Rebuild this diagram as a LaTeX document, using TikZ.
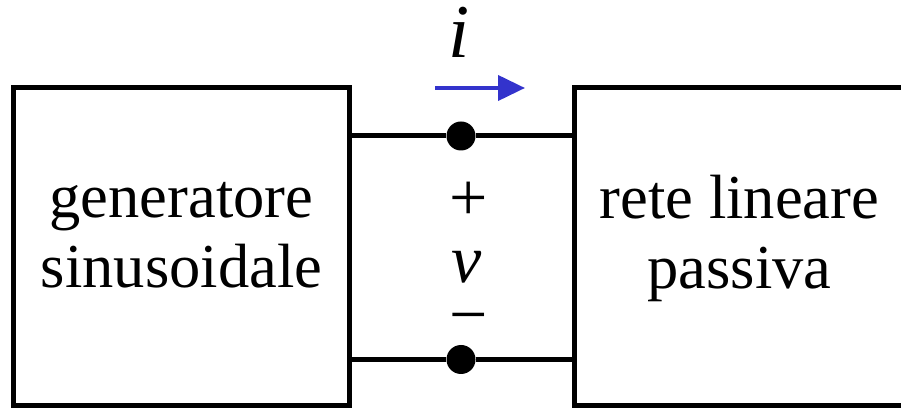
\documentclass[tikz,border=0pt]{standalone}
\usepackage{fontspec}
\setmainfont{Liberation Serif}
\usetikzlibrary{arrows.meta, calc, positioning}
\definecolor{curblue}{RGB}{51,51,204}

\begin{document}
\begin{tikzpicture}[x=1pt,y=1pt,
    block/.style={draw,line width=5pt,minimum height=318pt,inner sep=0pt},
    blocktext/.style={align=center,inner sep=0pt,font=\fontsize{62.5}{70}\selectfont},
    term/.style={circle,fill,inner sep=0pt,minimum size=29pt},
    sign/.style={inner sep=0pt,anchor=base,font=\fontsize{68}{70}\selectfont}]
\useasboundingbox (0,0) rectangle (901,409);
\clip (0,0) rectangle (901,409);
%
\node[block,minimum width=335.5pt] (gen) at (181.25,162.5) {};
\node[block,minimum width=330.5pt] (rete) at (739.75,162.5) {};
\node[blocktext] (gentext) at (181.5,173.5) {generatore\\sinusoidale};
\node[blocktext] (retetext) at (739.5,170.5) {rete lineare\\passiva};

%
\node[term] (ta) at (461,273) {};
\node[term] (tb) at (461,49.5) {};
\draw[line width=5pt] (gen.east |- ta) -- (ta) -- (rete.west |- ta);
\draw[line width=5pt] (gen.east |- tb) -- (tb) -- (rete.west |- tb);

%
\coordinate (ia) at (435,321);
\coordinate (ib) at (525,321);
\draw[curblue,line width=4pt,-{Triangle[length=27pt,width=25pt]}] (ia) -- (ib);
\node[sign,font=\fontsize{76}{80}\selectfont] (ilab) at (459,351) {\textit{i}};

%
\node[sign] (plus) at (469,188) {+};
\node[sign] (vlab) at (467,126) {\textit{v}};
\node[sign,text height=0.3em] (minus) at (469,71) {−};
\end{tikzpicture}
\end{document}
